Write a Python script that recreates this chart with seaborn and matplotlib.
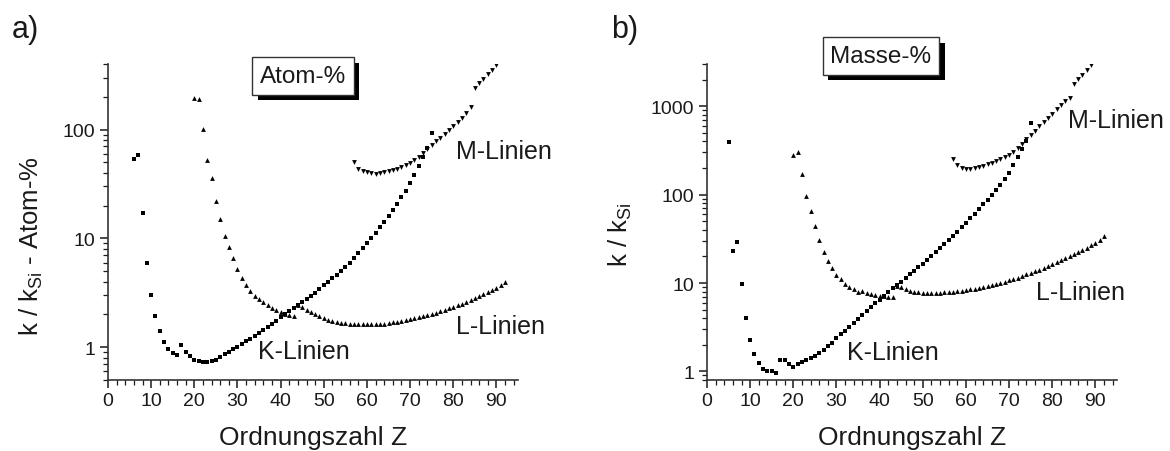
import matplotlib
matplotlib.use("Agg")
import matplotlib.pyplot as plt
import matplotlib.ticker as mticker
import matplotlib.patheffects as pe
import numpy as np
import pandas as pd
import seaborn as sns

# ---------------- data: left panel (Atom-%) ----------------
z_k_atom = list(range(6, 76))
k_k_atom = [54, 58, 17, 5.9, 3.05, 1.93, 1.42, 1.11, 0.96, 0.89,
            0.84, 1.04, 0.91, 0.83, 0.77, 0.74, 0.73, 0.73, 0.74, 0.77,
            0.81, 0.86, 0.91, 0.96, 1.01, 1.07, 1.13, 1.19, 1.26, 1.34,
            1.43, 1.53, 1.64, 1.76, 1.88, 2.0, 2.13, 2.28, 2.44, 2.6,
            2.78, 2.97, 3.18, 3.42, 3.7, 3.98, 4.3, 4.65, 5.05, 5.5,
            6.0, 6.6, 7.3, 8.1, 9.0, 10.0, 11.2, 12.6, 14.2, 16.0,
            18.2, 20.8, 23.8, 27.5, 32, 38, 46, 56, 68, 93]

z_l_atom = list(range(20, 93))
k_l_atom = [196, 189, 101, 53, 35.5, 22, 15, 10.5, 8.25, 6.6,
            5.25, 4.35, 3.7, 3.28, 2.96, 2.76, 2.6, 2.43, 2.3, 2.19,
            2.1, 2.04, 1.99, 1.93, 2.45, 2.35, 2.22, 2.1, 2.0, 1.92,
            1.85, 1.79, 1.75, 1.71, 1.68, 1.66, 1.64, 1.63, 1.62, 1.62,
            1.62, 1.62, 1.63, 1.64, 1.65, 1.67, 1.69, 1.71, 1.74, 1.77,
            1.8, 1.84, 1.88, 1.92, 1.97, 2.02, 2.08, 2.14, 2.2, 2.27,
            2.35, 2.43, 2.52, 2.62, 2.72, 2.83, 2.95, 3.07, 3.2, 3.35,
            3.5, 3.72, 4.0]

z_m_atom = list(range(57, 91))
k_m_atom = [50, 43.8, 42, 40.8, 40, 39.4, 39.6, 40.3, 41.3, 42.6,
            43.8, 45, 47, 49.5, 52.5, 56.5, 61, 66, 72, 78,
            84, 91, 99, 107, 117, 128, 141, 160, 241, 265,
            292, 322, 352, 390]

# ---------------- data: right panel (Masse-%) ----------------
z_k_mass = list(range(5, 76))
k_k_mass = [395, 23.2, 29.1, 9.7, 4.0, 2.24, 1.58, 1.25, 1.07, 1.01,
            1.0, 0.97, 1.33, 1.33, 1.2, 1.13, 1.22, 1.28, 1.34, 1.41,
            1.5, 1.62, 1.75, 1.92, 2.12, 2.38, 2.62, 2.88, 3.2, 3.53,
            3.92, 4.35, 4.82, 5.32, 5.9, 6.5, 7.15, 7.85, 8.7, 9.5,
            10.4, 11.4, 12.5, 13.7, 15.0, 16.5, 18.2, 20.0, 22.2, 24.6,
            27.3, 30.5, 34, 38, 43, 48, 54, 61, 69, 78,
            88, 100, 114, 130, 150, 175, 215, 265, 325, 400,
            640]

z_l_mass = list(range(20, 93))
k_l_mass = [279, 304, 173, 96, 66, 44, 30.4, 22.4, 17.6, 14.9,
            12.4, 11.0, 9.8, 9.0, 8.5, 8.0, 8.2, 7.8, 7.5, 7.25,
            7.1, 7.05, 6.95, 6.9, 9.2, 8.9, 8.5, 8.2, 8.0, 7.9,
            7.8, 7.8, 7.8, 7.8, 7.8, 7.85, 7.9, 7.95, 8.05, 8.15,
            8.3, 8.45, 8.6, 8.8, 9.0, 9.2, 9.45, 9.7, 10.0, 10.3,
            10.7, 11.1, 11.5, 12.0, 12.5, 13.0, 13.6, 14.2, 14.9, 15.6,
            16.4, 17.2, 18.1, 19.0, 20.0, 21.1, 22.3, 23.6, 25.0, 26.6,
            28.5, 31, 34]

z_m_mass = list(range(57, 90))
k_m_mass = [256, 215, 200, 197, 197, 200, 205, 211, 219, 228,
            238, 250, 263, 280, 302, 335, 375, 425, 475, 530,
            595, 660, 735, 820, 920, 1020, 1140, 1250, 1800, 2020,
            2250, 2550, 2900]

series_names = ["K", "L", "M"]
marker_map = {"K": "s", "L": "^", "M": "v"}
size_map = {"K": 8, "L": 12, "M": 12}


def long_table(zk, kk, zl, kl, zm, km):
    parts = []
    for name, z, k in zip(series_names, (zk, zl, zm), (kk, kl, km)):
        parts.append(pd.DataFrame({"Z": z, "k": k, "Linie": name}))
    return pd.concat(parts, ignore_index=True)


df_atom = long_table(z_k_atom, k_k_atom, z_l_atom, k_l_atom, z_m_atom, k_m_atom)
df_mass = long_table(z_k_mass, k_k_mass, z_l_mass, k_l_mass, z_m_mass, k_m_mass)

# ---------------- style ----------------
sns.set_style("ticks")
plt.rcParams["font.family"] = ["Liberation Sans", "DejaVu Sans"]
plt.rcParams["mathtext.fontset"] = "custom"
plt.rcParams["mathtext.rm"] = "Liberation Sans"
plt.rcParams["mathtext.it"] = "Liberation Sans:italic"
TXT = "#1a1a1a"

fig = plt.figure(figsize=(11.7, 4.52), dpi=100)
W, H = 1170, 452


def px_axes(x0, y0, x1, y1):
    return fig.add_axes([x0 / W, 1 - y1 / H, (x1 - x0) / W, (y1 - y0) / H])


ax_a = px_axes(108, 65, 518, 381)
ax_b = px_axes(707, 65, 1117, 381)


def style_axes(ax, ylim, ylabel, label_x, label_y):
    ax.set_yscale("log")
    ax.set_xlim(0, 95)
    ax.set_ylim(*ylim)
    ax.xaxis.set_major_locator(mticker.MultipleLocator(10))
    ax.xaxis.set_minor_locator(mticker.MultipleLocator(2))
    ax.yaxis.set_major_locator(mticker.LogLocator(base=10))
    ax.yaxis.set_minor_locator(mticker.LogLocator(base=10, subs=np.arange(2, 10)))
    ax.yaxis.set_major_formatter(mticker.FuncFormatter(lambda v, p: f"{v:g}"))
    ax.yaxis.set_minor_formatter(mticker.NullFormatter())
    ax.tick_params(which="major", direction="out", length=6, width=1.1,
                   labelsize=14, colors=TXT, pad=3)
    ax.tick_params(which="minor", direction="out", length=3.5, width=0.9, colors=TXT)
    for side in ("top", "right"):
        ax.spines[side].set_visible(False)
    for side in ("left", "bottom"):
        ax.spines[side].set_linewidth(1.2)
        ax.spines[side].set_color("#333333")
    ax.set_xlabel("Ordnungszahl Z", fontsize=19, color=TXT, labelpad=11)
    ax.set_ylabel(ylabel, fontsize=18.5, color=TXT)
    ax.yaxis.set_label_coords(label_x, label_y)


def draw(ax, df):
    for name in series_names:
        sub = df[df["Linie"] == name]
        sns.scatterplot(data=sub, x="Z", y="k", marker=marker_map[name],
                        s=size_map[name], color="black", linewidth=0,
                        ax=ax, legend=False, clip_on=True)


draw(ax_a, df_atom)
draw(ax_b, df_mass)
# label centres given in pixels relative to the axes box (410 x 316 px)
style_axes(ax_a, (0.5, 400), r"k / k$_{\mathrm{Si}}$ - Atom-%",
           (45 - 108) / 410, (381 - 246) / 316)
style_axes(ax_b, (0.8, 3000), r"k / k$_{\mathrm{Si}}$",
           (634 - 707) / 410, (381 - 235) / 316)

# series labels
lab = dict(fontsize=18, color=TXT, ha="left", va="center")
ax_a.text(80.6, 64, "M-Linien", clip_on=False, **lab)
ax_a.text(80.6, 1.56, "L-Linien", clip_on=False, **lab)
ax_a.text(34.8, 0.92, "K-Linien", **lab)
ax_b.text(83.6, 690, "M-Linien", clip_on=False, **lab)
ax_b.text(76.2, 8.0, "L-Linien", clip_on=False, **lab)
ax_b.text(32.4, 1.67, "K-Linien", **lab)


# framed unit boxes with drop shadow
def unit_box(xc, yc, text):
    t = fig.text(xc / W, 1 - yc / H, text, fontsize=17.5, color=TXT,
                 ha="center", va="center",
                 bbox=dict(boxstyle="square,pad=0.32", fc="white",
                           ec="#333333", lw=1.0))
    t.get_bbox_patch().set_path_effects([
        pe.SimplePatchShadow(offset=(4, -4), shadow_rgbFace="black", alpha=1.0),
        pe.Normal()])
    return t


unit_box(303, 77, "Atom-%")
unit_box(881, 57, "Masse-%")

# panel letters
fig.text(12 / W, 1 - 30 / H, "a)", fontsize=22, color=TXT, ha="left", va="center")
fig.text(611 / W, 1 - 30 / H, "b)", fontsize=22, color=TXT, ha="left", va="center")

fig.savefig("out.png", dpi=100, facecolor="white")
